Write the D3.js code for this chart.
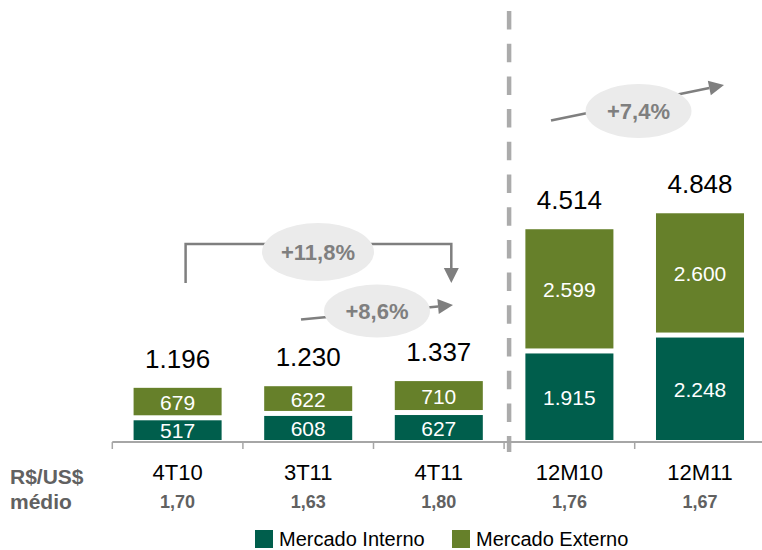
<!DOCTYPE html>
<html>
<head>
<meta charset="utf-8">
<script src="https://cdn.jsdelivr.net/npm/d3@7"></script>
<style>
  body { margin: 0; background: #fff; }
  svg { display: block; font-family: "Liberation Sans", Arial, sans-serif; }
</style>
</head>
<body>
<svg width="762" height="550"></svg>
<script>
// data
const categories = ['4T10', '3T11', '4T11', '12M10', '12M11'];
const mercadoInterno = [517, 608, 627, 1915, 2248];
const mercadoExterno = [679, 622, 710, 2599, 2600];
const cambio = ['1,70', '1,63', '1,80', '1,76', '1,67'];
const seriesNames = ['Mercado Interno', 'Mercado Externo'];
const growthLabels = ['+11,8%', '+8,6%', '+7,4%'];

const colors = ['#005e4c', '#66802a'];
const grey = '#7f7f7f';

const svg = d3.select('svg');
const br = d3.formatLocale({ decimal: ',', thousands: '.', grouping: [3], currency: ['R$', ''] });
const fmt = br.format(',d');

// ---------------------------------------------------------
// Scales
const x = d3.scaleBand()
    .domain(categories)
    .range([112.3, 765.3])
    .paddingInner(0.326)
    .paddingOuter(0.163);

const baseY = 440;
const y = d3.scaleLinear().domain([0, 5000]).range([baseY, baseY - 239]);
const gap = 5;

const rows = categories.map((c, i) => ({
    cat: c,
    mi: mercadoInterno[i],
    me: mercadoExterno[i],
    total: mercadoInterno[i] + mercadoExterno[i]
}));

// ---------------------------------------------------------
// Dashed separator
const sepX = x('12M10') - x.step() * x.paddingInner() / 2 + 5;
svg.append('line')
    .attr('x1', sepX).attr('x2', sepX)
    .attr('y1', 11).attr('y2', 452)
    .attr('stroke', '#ababab')
    .attr('stroke-width', 4.5)
    .attr('stroke-dasharray', '18.5 14.2');

// ---------------------------------------------------------
// Bars
const bars = svg.append('g').attr('class', 'bars');
const g = bars.selectAll('g').data(rows).enter().append('g');

g.append('rect')
    .attr('x', (d) => x(d.cat))
    .attr('width', x.bandwidth())
    .attr('y', (d) => y(d.mi) + gap)
    .attr('height', (d) => y(0) - y(d.mi) - gap)
    .attr('fill', colors[0]);

g.append('rect')
    .attr('x', (d) => x(d.cat))
    .attr('width', x.bandwidth())
    .attr('y', (d) => y(d.total) + gap)
    .attr('height', (d) => y(d.mi) - y(d.total) - gap)
    .attr('fill', colors[1]);

// inner labels
g.append('text')
    .attr('x', (d) => x(d.cat) + x.bandwidth() / 2)
    .attr('y', (d) => (y(d.mi) + gap + y(0)) / 2 + 1)
    .attr('dy', '0.35em')
    .attr('text-anchor', 'middle')
    .attr('fill', '#fff')
    .style('font-size', '21px')
    .text((d) => fmt(d.mi));

g.append('text')
    .attr('x', (d) => x(d.cat) + x.bandwidth() / 2)
    .attr('y', (d) => (y(d.total) + gap + y(d.mi)) / 2 + 1)
    .attr('dy', '0.35em')
    .attr('text-anchor', 'middle')
    .attr('fill', '#fff')
    .style('font-size', '21px')
    .text((d) => fmt(d.me));

// totals
g.append('text')
    .attr('x', (d) => x(d.cat) + x.bandwidth() / 2)
    .attr('y', (d) => y(d.total) - 15)
    .attr('text-anchor', 'middle')
    .attr('fill', '#000')
    .style('font-size', '26px')
    .text((d) => fmt(d.total));

// ---------------------------------------------------------
// Axis
const ticks = categories.map((c) => x(c) - x.step() * x.paddingInner() / 2);
const axis = svg.append('g').attr('class', 'axis');
axis.append('line')
    .attr('x1', ticks[0]).attr('x2', 762)
    .attr('y1', 442).attr('y2', 442)
    .attr('stroke', '#a6a6a6').attr('stroke-width', 1.8);
axis.selectAll('.tick').data(ticks).enter().append('line')
    .attr('x1', (d) => d).attr('x2', (d) => d)
    .attr('y1', 442).attr('y2', 449)
    .attr('stroke', '#a6a6a6').attr('stroke-width', 1.5);

axis.selectAll('.cat').data(categories).enter().append('text')
    .attr('x', (d) => x(d) + x.bandwidth() / 2)
    .attr('y', 480)
    .attr('text-anchor', 'middle')
    .style('font-size', '22px')
    .attr('fill', '#000')
    .text((d) => d);

axis.selectAll('.fx').data(cambio).enter().append('text')
    .attr('x', (d, i) => x(categories[i]) + x.bandwidth() / 2)
    .attr('y', 508)
    .attr('text-anchor', 'middle')
    .style('font-size', '18px')
    .style('font-weight', 'bold')
    .attr('fill', '#616161')
    .text((d) => d);

svg.append('text').attr('x', 10).attr('y', 484)
    .style('font-size', '21px').style('font-weight', 'bold')
    .attr('fill', '#616161').text('R$/US$');
svg.append('text').attr('x', 10).attr('y', 508.5)
    .style('font-size', '21px').style('font-weight', 'bold')
    .attr('fill', '#616161').text('médio');

// ---------------------------------------------------------
// Legend
const legendX = [255, 452];
const legend = svg.append('g').attr('class', 'legend');
const li = legend.selectAll('g').data(seriesNames).enter().append('g')
    .attr('transform', (d, i) => `translate(${legendX[i]},530)`);
li.append('rect').attr('width', 18).attr('height', 18)
    .attr('fill', (d, i) => colors[i]);
li.append('text').attr('x', 24).attr('y', 15.5)
    .style('font-size', '20px').attr('fill', '#000')
    .text((d) => d);

// ---------------------------------------------------------
// Growth annotations
const ann = svg.append('g').attr('class', 'annotations');

function arrowHead(x2, y2, angle) {
    const len = 15, half = 7.5;
    const bx = x2 - len * Math.cos(angle), by = y2 - len * Math.sin(angle);
    const px = -Math.sin(angle) * half, py = Math.cos(angle) * half;
    ann.append('path')
        .attr('d', `M${x2},${y2}L${bx + px},${by + py}L${bx - px},${by - py}Z`)
        .attr('fill', grey);
    return [bx, by];
}

function straightArrow(x1, y1, x2, y2) {
    const a = Math.atan2(y2 - y1, x2 - x1);
    const [bx, by] = arrowHead(x2, y2, a);
    ann.append('line')
        .attr('x1', x1).attr('y1', y1).attr('x2', bx).attr('y2', by)
        .attr('stroke', grey).attr('stroke-width', 2.5);
}

function bubble(cx, cy, rx, ry, label) {
    ann.append('ellipse')
        .attr('cx', cx).attr('cy', cy).attr('rx', rx).attr('ry', ry)
        .attr('fill', '#ebebeb');
    ann.append('text')
        .attr('x', cx).attr('y', cy).attr('dy', '0.35em')
        .attr('text-anchor', 'middle')
        .style('font-size', '22px').style('font-weight', 'bold')
        .attr('fill', grey)
        .text(label);
}

// 4T10 -> 4T11 bracket
const bx1 = x('4T10') + x.bandwidth() / 2 + 8;
const bx2 = x('4T11') + x.bandwidth() / 2 + 12.5;
arrowHead(bx2, 283, Math.PI / 2);
ann.append('path')
    .attr('d', `M${bx1},283V244H${bx2}V268`)
    .attr('fill', 'none')
    .attr('stroke', grey).attr('stroke-width', 2.5);
bubble(318, 252, 56, 29, growthLabels[0]);

// 3T11 -> 4T11
straightArrow(301, 319.5, 453, 305);
bubble(377, 311, 53, 26.5, growthLabels[1]);

// 12M10 -> 12M11
straightArrow(551, 120.5, 724, 85);
bubble(638.5, 111, 53, 27, growthLabels[2]);
</script>
</body>
</html>
